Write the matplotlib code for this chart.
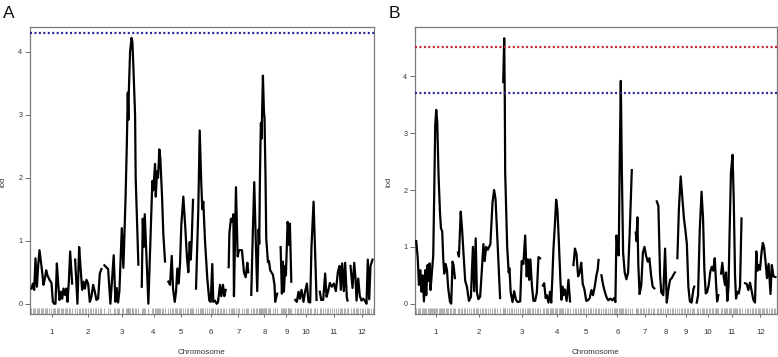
import numpy as np
import matplotlib
matplotlib.use("Agg")
import matplotlib.pyplot as plt

plt.rcParams['font.family'] = ['Liberation Sans Narrow', 'Liberation Sans', 'DejaVu Sans']

chrom_labels = ['1', '2', '3', '4', '5', '6', '7', '8', '9', '10', '11', '12']

# ---------------- Panel A ----------------
A_len = [40.7, 26.3, 34.4, 23.6, 24.7, 29.7, 19.6, 26.4, 11.6, 21.7, 27.7, 22.0]
A_gap = 3.0
A_thresholds = [4.30]
A_threshold_colors = ['#27279a']
A_pos = [
    [0, 1.4, 2.7, 4, 5.4, 6.7, 8, 9.4, 10.7, 12, 13.4, 14.7, 16, 18, 20, 21.4, 22.7, 24, 25.4, 26.7, 28, 29.4, 30.7, 32, 33.4, 34.7, 36, 37.4, 38.7, 40.7],
    [0, 2.3, 4, 5.3, 7, 8.3, 9.7, 11.3, 13, 14.7, 16.3, 18, 19.7, 21.3, 23, 24.7, 26.3],
    [0, 3.7, 6, 9.3, 11, 12.3, 13.7, 15, 17.4, 19, 21.2, 22.4, 23.4, 24, 24.4, 25.7, 27.2, 28, 29, 30.7, 31.3, 34],
    [0, 1, 2, 3, 6.6, 10.6, 11.5, 13.3, 14, 15.3, 16.3, 17.6, 18.6, 20.3, 21.6, 23.3],
    [0, 1.7, 3.4, 4.7, 6.4, 7.7, 9, 10.4, 11.7, 13, 15, 17, 18.7, 20, 21.4, 22.4, 23.4, 24.7],
    [0, 2.3, 3.7, 5.3, 6.3, 7.3, 9, 11.3, 13.3, 14.7, 16.3, 17.3, 19, 20.7, 22, 24, 25.3, 27, 28.3, 29.7],
    [0, 0.7, 2.3, 3.7, 4.7, 5.3, 7.3, 9, 10.3, 13.3, 15.3, 17, 18.7, 19.6],
    [0, 1.7, 3, 4.7, 6, 7.4, 8, 8.7, 9.3, 9.7, 10.3, 11.7, 12.7, 13.3, 14.3, 15, 16.7, 17.7, 19, 21.7, 23.3, 24, 26],
    [0, 1.3, 2.3, 3.3, 4.6, 5.3, 7, 7.7, 8.7, 9.3, 10.7],
    [0, 1.7, 3.3, 4.7, 6.3, 8.3, 10, 11.7, 13.3, 15, 16.3, 18.4, 19.6, 21.4],
    [0, 1.3, 3.3, 5.3, 6.7, 8.3, 10, 12, 14, 16, 18, 19.7, 21, 22.3, 24, 25.3, 27, 27.7],
    [0, 2, 3.7, 5, 6, 7.7, 9.3, 11, 12.7, 14.3, 16, 17.3, 18.7, 20, 22],
]
A_lod = [
    [0.24, 0.32, 0.22, 0.72, 0.27, 0.61, 0.85, 0.67, 0.5, 0.3, 0.4, 0.53, 0.45, 0.38, 0.33, 0.03, 0.0, 0.0, 0.64, 0.32, 0.06, 0.19, 0.08, 0.24, 0.14, 0.24, 0.03, 0.35, 0.83, 0.32],
    [0.7, 0.0, 0.9, 0.6, 0.22, 0.35, 0.24, 0.38, 0.32, 0.03, 0.11, 0.3, 0.19, 0.06, 0.08, 0.48, 0.55],
    [0.61, 0.55, 0.0, 0.77, 0.03, 0.25, 0.02, 0.2, 1.2, 0.57, 1.7, 2.5, 3.35, 2.92, 3.35, 4.0, 4.22, 4.15, 3.76, 3.0, 2.0, 0.62],
    [0.27, 1.35, 0.9, 1.42, 0.0, 1.95, 1.8, 2.22, 1.7, 2.1, 2.0, 2.45, 2.3, 1.7, 1.1, 0.67],
    [0.35, 0.3, 0.76, 0.24, 0.03, 0.19, 0.56, 0.32, 0.64, 1.25, 1.7, 1.2, 0.72, 0.5, 0.98, 0.7, 1.0, 1.65],
    [0.24, 1.5, 2.75, 1.9, 1.5, 1.62, 1.0, 0.4, 0.05, 0.03, 0.63, 0.03, 0.05, 0.0, 0.02, 0.3, 0.12, 0.3, 0.12, 0.22],
    [0.58, 1.12, 1.35, 1.3, 1.42, 0.12, 1.85, 0.75, 0.85, 0.85, 0.5, 0.42, 0.65, 0.5],
    [0.14, 1.2, 1.93, 0.9, 0.2, 1.18, 0.95, 2.0, 2.6, 2.87, 2.62, 3.62, 3.05, 2.95, 2.0, 1.04, 0.66, 0.68, 0.53, 0.46, 0.3, 0.03, 0.16],
    [0.9, 0.16, 0.67, 0.19, 0.6, 0.45, 1.3, 1.22, 0.93, 1.27, 0.35],
    [0.06, 0.03, 0.19, 0.08, 0.22, 0.03, 0.2, 0.32, 0.03, 0.02, 0.9, 1.62, 1.0, 0.06],
    [0.19, 0.06, 0.06, 0.48, 0.11, 0.2, 0.33, 0.27, 0.32, 0.2, 0.5, 0.6, 0.22, 0.64, 0.2, 0.65, 0.1, 0.05],
    [0.6, 0.25, 0.65, 0.4, 0.05, 0.4, 0.12, 0.05, 0.08, 0.05, 0.0, 0.7, 0.07, 0.6, 0.7],
]
A_ylim = (-0.163, 4.392)

# ---------------- Panel B ----------------
B_len = [39.2, 42.8, 37.2, 28.1, 25.5, 31.9, 18.5, 18.1, 16.9, 21.8, 21.5, 30.45]
B_gap = 2.5
B_thresholds = [4.52, 3.71]
B_threshold_colors = ['#c4262b', '#27279a']
B_pos = [
    [0, 1.5, 2.7, 4, 5.3, 6.3, 7.7, 9, 10, 11.3, 12.3, 13.3, 14.3, 15.7, 17, 18, 19, 20, 21, 22.3, 23.7, 24.7, 26, 27, 28, 29.3, 30.7, 32, 33.7, 35, 36.3, 37.3, 38.7],
    [0, 1, 2.8, 4.2, 5.7, 7.3, 9, 11, 13, 15, 16.3, 17.8, 19, 20.5, 22.2, 23.8, 25.5, 26.8, 28.2, 30, 32.5, 34.6, 36.2, 37.6, 38.8, 42.2],
    [0, 0.3, 1, 1.6, 2, 4, 5.5, 6.3, 7.5, 9.3, 11, 12.7, 14.5, 17, 18.5, 20.2, 22, 23.5, 24.8, 26, 27.2, 28.8, 30.3, 32, 33.7, 35.3, 36.9],
    [0, 1.3, 2.8, 4, 5.6, 7.2, 8.4, 9.6, 10.6, 12, 13.3, 14.6, 16, 17.6, 18.6, 19.6, 20.6, 22, 23.8, 25.6, 27.2],
    [0, 1.5, 3, 4.7, 6.3, 7.8, 9.3, 11, 12.8, 14.5, 16.3, 18, 19.6, 21.3, 23, 24.3, 25.1],
    [0, 1.7, 3.4, 5, 6.7, 9, 11, 12.7, 14, 15, 16, 17.3, 18.3, 19.4, 20.4, 21.7, 23.3, 25, 26.7, 28.4, 30.4],
    [0, 0.7, 1.6, 2.5, 3.8, 5.5, 7.1, 8.7, 10.2, 12, 13.6, 15.3, 16.9, 18.5],
    [0, 1.6, 3.3, 4.5, 6.5, 8.3, 10, 11.6, 13.3, 15, 16.4, 18.1],
    [0, 1.5, 3.3, 4.8, 6.6, 8, 9.5, 11, 12.5, 14.2, 16, 16.9],
    [0, 1.3, 3, 4.8, 6.3, 7.6, 9, 10.3, 12, 13.5, 15, 16.5, 18, 19.5, 20.4, 21.6],
    [0, 1.3, 2.7, 4, 5, 6.3, 7.5, 8.5, 9.9, 11.5, 12.7, 14, 15, 16.3, 17.7, 19, 20.5],
    [0, 1.7, 3.3, 5, 6.7, 8.3, 10, 11.3, 12.5, 13.6, 15, 16.5, 17.8, 19, 20.5, 22, 23.6, 25.5, 26.8, 28.5, 30.4],
]
B_lod = [
    [1.1, 0.8, 0.33, 0.59, 0.21, 0.5, 0.04, 0.59, 0.15, 0.68, 0.4, 0.71, 0.24, 0.56, 0.85, 1.97, 3.15, 3.41, 3.2, 2.27, 1.62, 1.33, 1.27, 0.8, 0.53, 0.7, 0.6, 0.27, 0.04, 0.0, 0.74, 0.68, 0.45],
    [0.9, 0.83, 1.62, 1.3, 0.85, 0.4, 0.3, 0.05, 0.12, 1.0, 0.22, 1.15, 0.2, 0.08, 0.12, 0.55, 1.05, 0.75, 1.0, 0.95, 1.05, 1.78, 2.0, 1.85, 1.4, 0.1],
    [3.9, 4.1, 4.67, 3.6, 2.3, 1.0, 0.55, 0.62, 0.2, 0.03, 0.22, 0.07, 0.03, 0.04, 0.75, 0.7, 1.2, 0.48, 0.78, 0.42, 0.78, 0.3, 0.05, 0.05, 0.2, 0.82, 0.8],
    [0.32, 0.36, 0.1, 0.15, 0.02, 0.21, 0.02, 0.5, 0.97, 1.38, 1.83, 1.65, 1.09, 0.39, 0.07, 0.3, 0.15, 0.25, 0.05, 0.42, 0.04],
    [0.68, 0.97, 0.88, 0.48, 0.55, 0.72, 0.35, 0.25, 0.05, 0.06, 0.1, 0.24, 0.15, 0.3, 0.5, 0.6, 0.77],
    [0.5, 0.33, 0.21, 0.12, 0.06, 0.09, 0.06, 0.1, 0.03, 1.2, 1.05, 0.85, 2.5, 3.92, 2.4, 0.9, 0.55, 0.43, 0.55, 1.3, 2.35],
    [1.25, 1.1, 1.52, 0.7, 0.17, 0.33, 0.9, 1.0, 0.85, 0.74, 0.8, 0.5, 0.3, 0.27],
    [1.8, 1.72, 0.5, 0.2, 0.15, 0.97, 0.02, 0.25, 0.42, 0.45, 0.5, 0.55],
    [0.8, 1.65, 2.24, 1.9, 1.5, 1.3, 1.05, 0.3, 0.04, 0.02, 0.25, 0.3],
    [0.02, 0.15, 1.3, 1.97, 1.5, 0.6, 0.18, 0.2, 0.33, 0.56, 0.65, 0.58, 0.8, 0.3, 0.04, 0.15],
    [0.53, 0.72, 0.47, 0.33, 0.55, 0.05, 0.3, 1.2, 2.3, 2.62, 1.85, 0.5, 0.09, 0.21, 0.18, 0.3, 1.5],
    [0.36, 0.35, 0.24, 0.37, 0.22, 0.07, 0.02, 0.92, 0.58, 0.68, 0.6, 0.9, 1.07, 1.0, 0.75, 0.45, 0.7, 0.17, 0.68, 0.48, 0.47],
]
B_ylim = (-0.181, 4.868)

W, H = 778, 357
fig = plt.figure(figsize=(W / 100, H / 100), dpi=100)
fig.patch.set_facecolor('white')


def draw_panel(rect, lengths, gap, pos, lod, thresholds, tcolors, ylim, letter, letter_x, ylabel_x):
    ax = fig.add_axes(rect)
    starts = np.concatenate([[0.0], np.cumsum(np.array(lengths) + gap)[:-1]])
    total = starts[-1] + lengths[-1]
    ax.set_xlim(-gap / 2, total + gap / 2)
    ax.set_ylim(*ylim)
    rug_h = 0.09 * (ylim[1] - ylim[0]) / 4.55
    for s, p, l in zip(starts, pos, lod):
        x = s + np.array(p)
        ax.plot(x, l, color='black', lw=1.6, solid_joinstyle='round', zorder=3)
        ax.vlines(x, ylim[0], ylim[0] + rug_h, colors='#9a9a9a', lw=0.55, zorder=2)
    for t, c in zip(thresholds, tcolors):
        ax.axhline(t, color=c, lw=1.6, linestyle=(0, (0.9, 1.1)), zorder=4)
    mids = starts + np.array(lengths) / 2
    ax.set_xticks(mids)
    ax.set_xticklabels(chrom_labels)
    ax.set_yticks([0, 1, 2, 3, 4])
    ax.tick_params(axis='x', length=2.5, width=0.6, pad=8, labelsize=5.6, colors='#333333', color='#555555')
    ax.tick_params(axis='y', length=3.5, width=0.6, pad=2, labelsize=5.2, colors='#333333', color='#555555')
    for sp in ax.spines.values():
        sp.set_color('#7a7a7a')
        sp.set_linewidth(0.9)
    ax.set_xlabel('Chromosome', fontsize=5.8, color='#333333')
    ax.xaxis.set_label_coords(0.5, -38.7 / 287, transform=ax.transAxes)
    ax.xaxis.label.set_va('center')
    ax.set_ylabel('lod', fontsize=5.4, color='#333333')
    ax.yaxis.set_label_coords(ylabel_x, 0.46)
    fig.text(letter_x / W, 1 - 17.5 / H, letter, fontsize=12.5, va='baseline', ha='left',
             family=['Liberation Sans', 'DejaVu Sans'], color='#111111')
    return ax


draw_panel([30 / W, 1 - 314 / H, 344 / W, 287 / H], A_len, A_gap, A_pos, A_lod,
           A_thresholds, A_threshold_colors, A_ylim, 'A', 3, -0.068)
draw_panel([415 / W, 1 - 314 / H, 361.7 / W, 287 / H], B_len, B_gap, B_pos, B_lod,
           B_thresholds, B_threshold_colors, B_ylim, 'B', 389, -0.062)

fig.savefig('out.png', dpi=100, facecolor='white')
